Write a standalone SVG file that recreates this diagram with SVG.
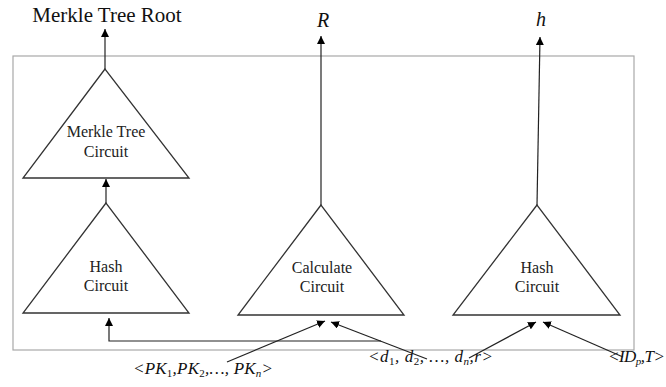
<svg xmlns="http://www.w3.org/2000/svg" width="666" height="387" viewBox="0 0 666 387">
<defs>
<marker id="ah" markerWidth="8" markerHeight="8" viewBox="0 0 8 8" refX="8" refY="4" orient="auto" markerUnits="userSpaceOnUse">
<path d="M0,0 L8,4 L0,8 Z" fill="#000"/>
</marker>
<style>
text{font-family:"Liberation Serif","Times New Roman","DejaVu Serif",serif}
.tri{fill:#fff;stroke:#333;stroke-width:1.3}
.lbl{font-size:16px;fill:#222;text-anchor:middle}
.math{font-style:italic;fill:#111}
.con{fill:none;stroke:#222;stroke-width:1.2}
.arr{marker-end:url(#ah)}
</style>
</defs>
<rect width="666" height="387" fill="#fff"/>
<rect id="frame" x="13" y="56" width="621" height="294" fill="none" stroke="#a8a8a8" stroke-width="1.2"/>

<g id="merkle">
<polygon class="tri" points="105,69 23,178 189,178"/>
<text class="lbl" x="106" y="137">Merkle Tree</text>
<text class="lbl" x="106" y="157">Circuit</text>
</g>
<g id="hash1">
<polygon class="tri" points="106,203 23,313 189,313"/>
<text class="lbl" x="106" y="272">Hash</text>
<text class="lbl" x="106" y="291">Circuit</text>
</g>
<g id="calc">
<polygon class="tri" points="321,205 238,315 404,315"/>
<text class="lbl" x="322" y="273">Calculate</text>
<text class="lbl" x="322" y="292">Circuit</text>
</g>
<g id="hash2">
<polygon class="tri" points="537,205 453,315 620,315"/>
<text class="lbl" x="537" y="273">Hash</text>
<text class="lbl" x="537" y="292">Circuit</text>
</g>

<g id="outputs">
<text x="107" y="22" font-size="21" fill="#111" text-anchor="middle">Merkle Tree Root</text>
<text class="math" x="323" y="27" font-size="20" text-anchor="middle">R</text>
<text class="math" x="541" y="26" font-size="20" text-anchor="middle">h</text>
</g>

<g id="inputs">
<text class="math" x="133" y="374" font-size="17" textLength="140" lengthAdjust="spacing">&lt;PK<tspan font-size="11" font-style="normal" dy="3">1</tspan><tspan dy="-3">,PK</tspan><tspan font-size="11" font-style="normal" dy="3">2</tspan><tspan dy="-3">,…,  PK</tspan><tspan font-size="11" dy="3">n</tspan><tspan dy="-3">&gt;</tspan></text>
<text class="math" x="368" y="362" font-size="17" textLength="125" lengthAdjust="spacing">&lt;d<tspan font-size="11" font-style="normal" dy="3">1</tspan><tspan dy="-3">,  d</tspan><tspan font-size="11" font-style="normal" dy="3">2</tspan><tspan dy="-3">, …,  d</tspan><tspan font-size="11" dy="3">n</tspan><tspan dy="-3">,r&gt;</tspan></text>
<text class="math" x="608" y="362" font-size="17" textLength="57" lengthAdjust="spacing">&lt;ID<tspan font-size="11" dy="3">p</tspan><tspan dy="-3">,T&gt;</tspan></text>
</g>

<g id="connectors">
<line class="con arr" x1="105" y1="69" x2="105" y2="29"/>
<line class="con arr" x1="106" y1="203" x2="106" y2="179"/>
<line class="con arr" x1="321" y1="205" x2="321" y2="36"/>
<line class="con arr" x1="537" y1="205" x2="540" y2="37"/>
<polyline class="con arr" points="381,341 109,341 109,318" stroke="#444" stroke-width="1.8"/>
<line class="con arr" x1="227" y1="362" x2="325" y2="321"/>
<line class="con arr" x1="427" y1="359" x2="331" y2="322"/>
<line class="con arr" x1="469" y1="358" x2="536" y2="322"/>
<line class="con arr" x1="623" y1="357" x2="543" y2="322"/>
</g>
</svg>
